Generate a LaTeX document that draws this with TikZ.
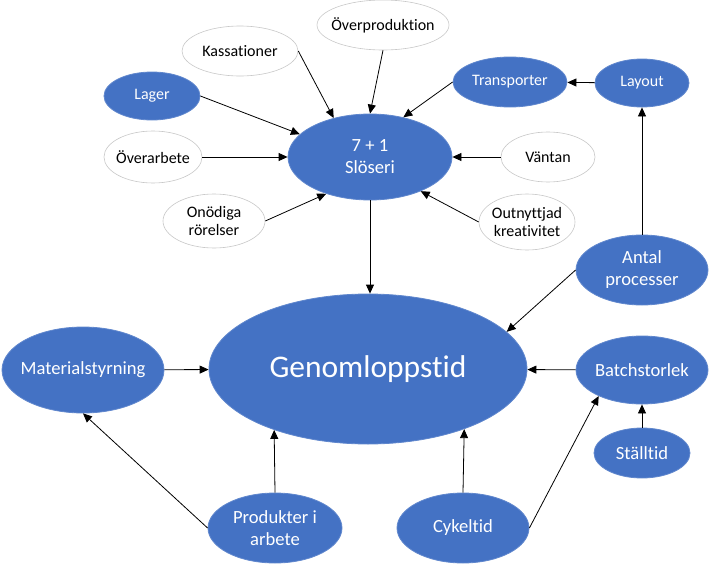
\documentclass[tikz,border=0pt]{standalone}
\usepackage{fontspec}
\setmainfont[Ligatures={NoCommon,NoRare,NoContextual}]{Carlito}
\usetikzlibrary{shapes,arrows.meta,positioning}

\definecolor{offblue}{HTML}{4472C4}
\definecolor{rimgray}{HTML}{C8C8C8}

\tikzset{
    size/.style 2 args={minimum width=#1pt, minimum height=#2pt},
    bluenode/.style={ellipse, inner sep=0pt, fill=offblue, draw=offblue!85!white, line width=0.8pt},
    whitenode/.style={ellipse, inner sep=0pt, fill=white, draw=rimgray, line width=0.6pt},
    smalltxt/.style={align=center, inner sep=0pt, font=\fontsize{16}{18.5}\selectfont},
    midtxt/.style={align=center, inner sep=0pt, text=white, font=\fontsize{18.6}{22}\selectfont},
    bsmall/.style={smalltxt, text=white},
    arr/.style={-{Triangle[length=9pt,width=8pt]}, line width=0.8pt}
}

\begin{document}
\begin{tikzpicture}[x=1pt, y=-1pt]
    \useasboundingbox (0,0) rectangle (710,565);

    % centre
    \node [bluenode, size={318}{150}, label={[midtxt, font=\fontsize{31.5}{37}\selectfont]center:Genomloppstid}] (gen) at (368,369) {};
    \node [bluenode, size={164}{86}, label={[midtxt]center:{7 + 1\\Slöseri}}] (slo) at (370,157) {};

    % the wastes
    \node [whitenode, size={116}{50}, label={[smalltxt]center:Kassationer}] (kas) at (240,51) {};
    \node [whitenode, size={132}{50}, label={[smalltxt]center:Överproduktion}] (ovp) at (383,25) {};
    \node [bluenode, size={96}{48}, label={[bsmall]center:Lager}] (lag) at (152,96) {};
    \node [whitenode, size={98}{52}, label={[smalltxt]center:Överarbete}] (ova) at (153,157) {};
    \node [whitenode, size={102}{54}, label={[smalltxt]center:{Onödiga\\rörelser}}] (ono) at (214,221) {};
    \node [bluenode, size={114}{50}, label={[bsmall]center:Transporter}] (tra) at (510,82) {};
    \node [whitenode, size={94}{50}, label={[smalltxt]center:Väntan}] (van) at (548,157) {};
    \node [whitenode, size={96}{56}, label={[smalltxt]center:{Outnyttjad\\kreativitet}}] (out) at (527,222) {};

    % right side
    \node [bluenode, size={94}{48}, label={[bsmall]center:Layout}] (lay) at (642,83) {};
    \node [bluenode, size={132}{70}, label={[midtxt]center:{Antal\\processer}}] (ant) at (642,270) {};
    \node [bluenode, size={132}{68}, label={[midtxt]center:Batchstorlek}] (bat) at (642,370) {};
    \node [bluenode, size={96}{50}, label={[midtxt]center:Ställtid}] (sta) at (642,453) {};

    % bottom and left
    \node [bluenode, size={132}{70}, label={[midtxt]center:Cykeltid}] (cyk) at (463,528) {};
    \node [bluenode, size={162}{86}, label={[midtxt]center:Materialstyrning}] (mat) at (83,370) {};
    \node [bluenode, size={134}{70}, label={[midtxt]center:{Produkter i\\arbete}}] (pro) at (275,528) {};

    \draw [arr] (kas.east) -- (slo.133);
    \draw [arr] (ovp.south) -- (slo.north);
    \draw [arr] (tra.west) -- (slo.50);
    \draw [arr] (lay) -- (tra);
    \draw [arr] (lag.east) -- (slo.162);
    \draw [arr] (ova) -- (slo);
    \draw [arr] (van) -- (slo);
    \draw [arr] (ono.east) -- (slo.220);
    \draw [arr] (out.west) -- (slo.326);
    \draw [arr] (slo.south) -- (slo.south |- gen.north);

    \draw [arr] (ant) -- (lay);
    \draw [arr] (ant.west) -- (gen.15);
    \draw [arr] (bat) -- (gen);
    \draw [arr] (sta) -- (bat);
    \draw [arr] (cyk.east) -- (bat.211);
    \draw [arr] (cyk.north) -- (gen.-32.3);
    \draw [arr] (mat) -- (gen);
    \draw [arr] (pro.west) -- (mat.south);
    \draw [arr] (pro.north) -- (gen.213.6);
\end{tikzpicture}
\end{document}
